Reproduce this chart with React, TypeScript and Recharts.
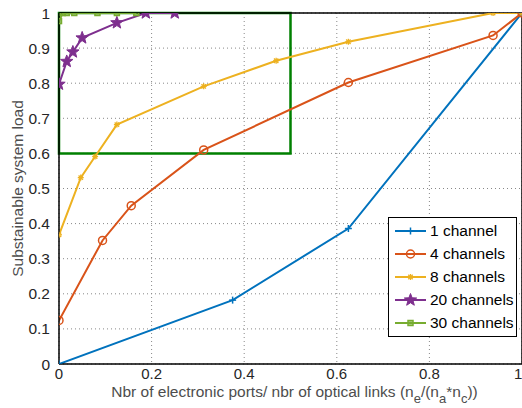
import { LineChart, Line, XAxis, YAxis, CartesianGrid, ReferenceArea, ReferenceLine } from 'recharts'

// x = electronic ports / optical links, y = sustainable load
const CH1_X = [0, 0.375, 0.625, 1]
const CH1_Y = [0, 0.182, 0.386, 1]

const CH4_X = [0, 0.094, 0.156, 0.3125, 0.625, 0.9375, 1]
const CH4_Y = [0.124, 0.352, 0.451, 0.61, 0.802, 0.936, 1]

const CH8_X = [0, 0.047, 0.078, 0.125, 0.3125, 0.469, 0.625, 0.9375, 1]
const CH8_Y = [0.368, 0.531, 0.591, 0.682, 0.791, 0.864, 0.918, 1, 1]

const CH20_X = [0, 0.0167, 0.03, 0.05, 0.125, 0.1875, 0.25]
const CH20_Y = [0.797, 0.862, 0.889, 0.929, 0.972, 1, 1]

const CH30_X = [0, 0.0083, 0.0167, 0.033, 0.083, 0.125, 0.167]
const CH30_Y = [0.977, 1, 1, 1, 1, 1, 1]

const X_TICKS = [0, 0.2, 0.4, 0.6, 0.8, 1]
const Y_TICKS = [0, 0.1, 0.2, 0.3, 0.4, 0.5, 0.6, 0.7, 0.8, 0.9, 1]

const SERIES = [
  { name: '1 channel', xs: CH1_X, ys: CH1_Y, color: '#0072BD', marker: 'plus' },
  { name: '4 channels', xs: CH4_X, ys: CH4_Y, color: '#D95319', marker: 'circle' },
  { name: '8 channels', xs: CH8_X, ys: CH8_Y, color: '#EDB120', marker: 'asterisk' },
  { name: '20 channels', xs: CH20_X, ys: CH20_Y, color: '#7E2F8E', marker: 'star' },
  { name: '30 channels', xs: CH30_X, ys: CH30_Y, color: '#77AC30', marker: 'square' },
]

const FONT = 'Liberation Sans, Arial, sans-serif'

function starPath(cx: number, cy: number, r: number) {
  const pts: string[] = []
  for (let i = 0; i < 10; i++) {
    const rr = i % 2 === 0 ? r : r * 0.42
    const a = -Math.PI / 2 + (i * Math.PI) / 5
    pts.push(`${cx + rr * Math.cos(a)},${cy + rr * Math.sin(a)}`)
  }
  return 'M' + pts.join('L') + 'Z'
}

function Marker({ kind, cx, cy, color }: { kind: string; cx: number; cy: number; color: string }) {
  if (cx == null || cy == null) return null
  if (kind === 'plus') {
    return (
      <g stroke={color} strokeWidth={1.5}>
        <line x1={cx - 3.5} y1={cy} x2={cx + 3.5} y2={cy} />
        <line x1={cx} y1={cy - 3.5} x2={cx} y2={cy + 3.5} />
      </g>
    )
  }
  if (kind === 'circle') {
    return <circle cx={cx} cy={cy} r={4} fill="none" stroke={color} strokeWidth={1.5} />
  }
  if (kind === 'asterisk') {
    return (
      <g stroke={color} strokeWidth={1.3}>
        <line x1={cx - 3} y1={cy} x2={cx + 3} y2={cy} />
        <line x1={cx} y1={cy - 3} x2={cx} y2={cy + 3} />
        <line x1={cx - 2.2} y1={cy - 2.2} x2={cx + 2.2} y2={cy + 2.2} />
        <line x1={cx - 2.2} y1={cy + 2.2} x2={cx + 2.2} y2={cy - 2.2} />
      </g>
    )
  }
  if (kind === 'star') {
    return <path d={starPath(cx, cy, 6.5)} fill={color} stroke={color} strokeWidth={1} />
  }
  return <rect x={cx - 2.5} y={cy - 2.5} width={5} height={5} fill={color} fillOpacity={0.6} stroke={color} strokeWidth={1.5} />
}

function XLabel(props: any) {
  const vb = props.viewBox || {}
  const cx = vb.x + vb.width / 2 + 4
  return (
    <text x={cx} y={397} textAnchor="middle" fontFamily={FONT} fontSize={15.5} fill="#4d4d4d">
      Nbr of electronic ports/ nbr of optical links (n
      <tspan dy={6} fontSize={13}>e</tspan>
      <tspan dy={-6}>/(n</tspan>
      <tspan dy={6} fontSize={13}>a</tspan>
      <tspan dy={-6}>*n</tspan>
      <tspan dy={6} fontSize={13}>c</tspan>
      <tspan dy={-6}>))</tspan>
    </text>
  )
}

function YLabel(props: any) {
  const vb = props.viewBox || {}
  const cy = vb.y + vb.height / 2
  return (
    <text x={23} y={cy} transform={`rotate(-90, 23, ${cy})`} textAnchor="middle" fontFamily={FONT} fontSize={15.5} fill="#4d4d4d">
      Substainable system load
    </text>
  )
}

function LegendBox() {
  return (
    <div style={{
      position: 'absolute',
      left: 388,
      top: 217,
      width: 127,
      padding: '2px 0',
      border: '1px solid #000',
      background: '#fff',
      fontFamily: FONT,
      fontSize: 15.5,
      color: '#000',
    }}>
      {SERIES.map((s) => (
        <div key={s.name} style={{ display: 'flex', alignItems: 'center', height: 22.8 }}>
          <svg width={41} height={16} style={{ flex: 'none' }}>
            <line x1={6} y1={8} x2={37} y2={8} stroke={s.color} strokeWidth={2} />
            <Marker kind={s.marker} cx={21.5} cy={8} color={s.color} />
          </svg>
          <span style={{ whiteSpace: 'nowrap' }}>{s.name}</span>
        </div>
      ))}
    </div>
  )
}

export default function App() {
  return (
    <div style={{ position: 'absolute', left: 0, top: 0, width: 522, height: 408, background: '#fff' }}>
      <LineChart width={522} height={408} margin={{ top: 13, right: 0, bottom: 0, left: 0 }}>
        <CartesianGrid stroke="#888" strokeDasharray="1 3" vertical horizontal />
        <XAxis
          type="number"
          dataKey="x"
          domain={[0, 1]}
          ticks={X_TICKS}
          tickFormatter={(v: number) => String(v)}
          height={44}
          tickLine={false}
          tickSize={4}
          tickMargin={0}
          axisLine={{ stroke: '#000', strokeWidth: 1.5 }}
          tick={{ fill: '#262626', fontSize: 15, fontFamily: FONT }}
          allowDataOverflow
          label={<XLabel />}
        />
        <YAxis
          type="number"
          domain={[0, 1]}
          ticks={Y_TICKS}
          tickFormatter={(v: number) => String(v)}
          width={59}
          tickLine={false}
          tickMargin={3}
          axisLine={{ stroke: '#000', strokeWidth: 1.5 }}
          tick={{ fill: '#262626', fontSize: 15.5, fontFamily: FONT }}
          allowDataOverflow
          label={<YLabel />}
        />
        <ReferenceLine y={1} stroke="#000" strokeWidth={1.5} />
        <ReferenceLine x={1} stroke="#000" strokeWidth={1.5} />
        {SERIES.map((s) => (
          <Line
            key={s.name}
            name={s.name}
            data={s.xs.map((x, i) => ({ x, y: s.ys[i] }))}
            dataKey="y"
            type="linear"
            stroke={s.color}
            strokeWidth={2}
            dot={(p: any) => <Marker key={`${s.name}-${p.index}`} kind={s.marker} cx={p.cx} cy={p.cy} color={s.color} />}
            activeDot={false}
            isAnimationActive={false}
          />
        ))}
        <ReferenceArea x1={0} x2={0.5} y1={0.6} y2={1} fill="none" stroke="#008000" strokeWidth={2.5} />
      </LineChart>
      <LegendBox />
    </div>
  )
}
